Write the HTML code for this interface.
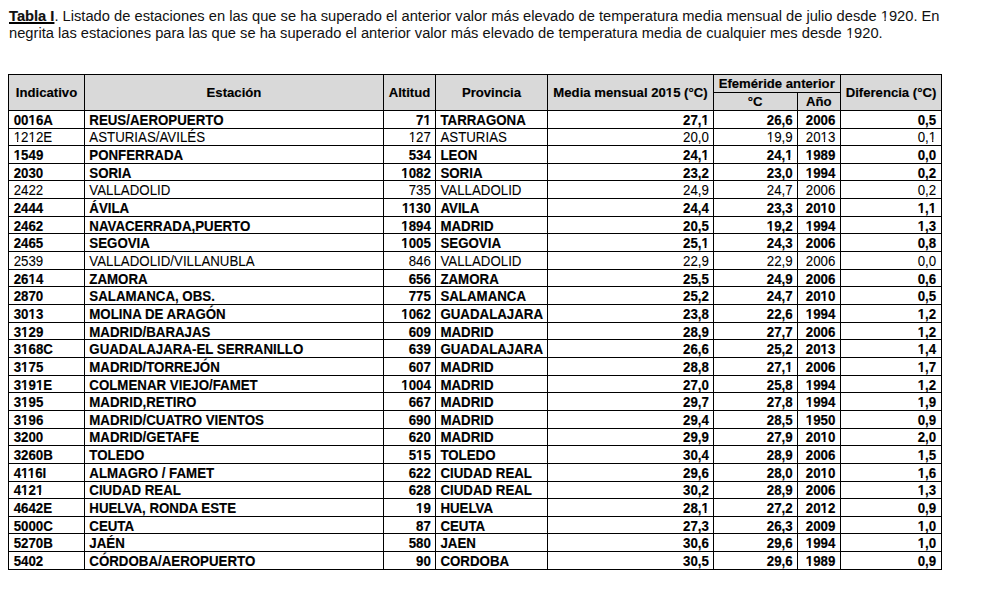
<!DOCTYPE html>
<html><head><meta charset="utf-8"><style>
html,body{margin:0;padding:0;background:#fff;}
body{width:994px;height:603px;position:relative;overflow:hidden;font-family:"Liberation Sans",sans-serif;color:#000;}
.title{position:absolute;left:9px;font-size:14.69px;line-height:17px;white-space:nowrap;color:#111;}
.tb{font-weight:bold;text-decoration:underline;text-decoration-thickness:2px;text-underline-offset:1px;-webkit-text-stroke:0.15px #000;}
.l{position:absolute;background:#000;}
.g{position:absolute;background:#d9d9d9;}
.t{position:absolute;font-size:13.3px;line-height:0;white-space:nowrap;transform:scaleY(1.1);transform-origin:0 0.01px;}
.b{-webkit-text-stroke:0.15px #000;}
.r{-webkit-text-stroke:0.08px #000;}
.b{font-weight:bold;}
.ra{text-align:right;}
.title .o{clip-path:polygon(0 0,100% 0,100% 0.66em,0.34em 0.66em,0.34em 100%,0.2515em 100%,0.2515em 0.66em,0 0.66em);}
.b .o{clip-path:polygon(0 0,100% 0,100% 0.72em,0.3706em 0.72em,0.3706em 100%,0.2334em 100%,0.2334em 0.72em,0 0.72em);}
.r .o{clip-path:polygon(0 0,100% 0,100% 0.70em,0.34em 0.70em,0.34em 100%,0.2515em 100%,0.2515em 0.70em,0 0.70em);}
.h{font-size:13.15px;transform:none;}
.ca{text-align:center;}
</style></head><body>
<div class="title" style="top:7.8px"><span class="tb">Tabla I</span>. Listado de estaciones en las que se ha superado el anterior valor más elevado de temperatura media mensual de julio desde <span class="o">1</span>920. En</div><div class="title" style="top:24.8px">negrita las estaciones para las que se ha superado el anterior valor más elevado de temperatura media de cualquier mes desde <span class="o">1</span>920.</div>
<div class="g" style="left:8px;top:74px;width:933px;height:36px"></div><div class="t b h ca" style="left:9px;width:75px;top:93.39px">Indicativo</div><div class="t b h ca" style="left:85px;width:298px;top:93.39px">Estación</div><div class="t b h ca" style="left:384px;width:51px;top:93.39px">Altitud</div><div class="t b h ca" style="left:436px;width:111px;top:93.39px">Provincia</div><div class="t b h ca" style="left:548px;width:165px;top:93.39px">Media mensual 20<span class="o">1</span>5 (°C)</div><div class="t b h ca" style="left:713.7px;width:126.0px;top:83.69px">Efeméride anterior</div><div class="t b h ca" style="left:713.5px;width:83.0px;top:102.29px">°C</div><div class="t b h ca" style="left:797.7px;width:42.0px;top:102.29px">Año</div><div class="t b h ca" style="left:841px;width:100px;top:93.39px">Diferencia (°C)</div><div class="t b" style="left:13.700000000000001px;top:120.69px">00<span class="o">1</span>6A</div><div class="t b" style="left:89.30000000000001px;top:120.69px">REUS/AEROPUERTO</div><div class="t b ra" style="right:563.10px;top:120.69px">7<span class="o">1</span></div><div class="t b" style="left:440.4px;top:120.69px">TARRAGONA</div><div class="t b ra" style="right:285.10px;top:120.69px">27,<span class="o">1</span></div><div class="t b ra" style="right:201.30px;top:120.69px">26,6</div><div class="t b ca" style="left:799.6px;width:42.0px;top:120.69px">2006</div><div class="t b ra" style="right:57.80px;top:120.69px">0,5</div><div class="t r" style="left:13.700000000000001px;top:138.35px"><span class="o">1</span>2<span class="o">1</span>2E</div><div class="t r" style="left:89.30000000000001px;top:138.35px">ASTURIAS/AVILÉS</div><div class="t r ra" style="right:563.10px;top:138.35px"><span class="o">1</span>27</div><div class="t r" style="left:440.4px;top:138.35px">ASTURIAS</div><div class="t r ra" style="right:285.10px;top:138.35px">20,0</div><div class="t r ra" style="right:201.30px;top:138.35px"><span class="o">1</span>9,9</div><div class="t r ca" style="left:799.6px;width:42.0px;top:138.35px">20<span class="o">1</span>3</div><div class="t r ra" style="right:57.80px;top:138.35px">0,<span class="o">1</span></div><div class="t b" style="left:13.700000000000001px;top:156.00px"><span class="o">1</span>549</div><div class="t b" style="left:89.30000000000001px;top:156.00px">PONFERRADA</div><div class="t b ra" style="right:563.10px;top:156.00px">534</div><div class="t b" style="left:440.4px;top:156.00px">LEON</div><div class="t b ra" style="right:285.10px;top:156.00px">24,<span class="o">1</span></div><div class="t b ra" style="right:201.30px;top:156.00px">24,<span class="o">1</span></div><div class="t b ca" style="left:799.6px;width:42.0px;top:156.00px"><span class="o">1</span>989</div><div class="t b ra" style="right:57.80px;top:156.00px">0,0</div><div class="t b" style="left:13.700000000000001px;top:173.65px">2030</div><div class="t b" style="left:89.30000000000001px;top:173.65px">SORIA</div><div class="t b ra" style="right:563.10px;top:173.65px"><span class="o">1</span>082</div><div class="t b" style="left:440.4px;top:173.65px">SORIA</div><div class="t b ra" style="right:285.10px;top:173.65px">23,2</div><div class="t b ra" style="right:201.30px;top:173.65px">23,0</div><div class="t b ca" style="left:799.6px;width:42.0px;top:173.65px"><span class="o">1</span>994</div><div class="t b ra" style="right:57.80px;top:173.65px">0,2</div><div class="t r" style="left:13.700000000000001px;top:191.31px">2422</div><div class="t r" style="left:89.30000000000001px;top:191.31px">VALLADOLID</div><div class="t r ra" style="right:563.10px;top:191.31px">735</div><div class="t r" style="left:440.4px;top:191.31px">VALLADOLID</div><div class="t r ra" style="right:285.10px;top:191.31px">24,9</div><div class="t r ra" style="right:201.30px;top:191.31px">24,7</div><div class="t r ca" style="left:799.6px;width:42.0px;top:191.31px">2006</div><div class="t r ra" style="right:57.80px;top:191.31px">0,2</div><div class="t b" style="left:13.700000000000001px;top:208.96px">2444</div><div class="t b" style="left:89.30000000000001px;top:208.96px">ÁVILA</div><div class="t b ra" style="right:563.10px;top:208.96px"><span class="o">1</span><span class="o">1</span>30</div><div class="t b" style="left:440.4px;top:208.96px">AVILA</div><div class="t b ra" style="right:285.10px;top:208.96px">24,4</div><div class="t b ra" style="right:201.30px;top:208.96px">23,3</div><div class="t b ca" style="left:799.6px;width:42.0px;top:208.96px">20<span class="o">1</span>0</div><div class="t b ra" style="right:57.80px;top:208.96px"><span class="o">1</span>,<span class="o">1</span></div><div class="t b" style="left:13.700000000000001px;top:226.61px">2462</div><div class="t b" style="left:89.30000000000001px;top:226.61px">NAVACERRADA,PUERTO</div><div class="t b ra" style="right:563.10px;top:226.61px"><span class="o">1</span>894</div><div class="t b" style="left:440.4px;top:226.61px">MADRID</div><div class="t b ra" style="right:285.10px;top:226.61px">20,5</div><div class="t b ra" style="right:201.30px;top:226.61px"><span class="o">1</span>9,2</div><div class="t b ca" style="left:799.6px;width:42.0px;top:226.61px"><span class="o">1</span>994</div><div class="t b ra" style="right:57.80px;top:226.61px"><span class="o">1</span>,3</div><div class="t b" style="left:13.700000000000001px;top:244.27px">2465</div><div class="t b" style="left:89.30000000000001px;top:244.27px">SEGOVIA</div><div class="t b ra" style="right:563.10px;top:244.27px"><span class="o">1</span>005</div><div class="t b" style="left:440.4px;top:244.27px">SEGOVIA</div><div class="t b ra" style="right:285.10px;top:244.27px">25,<span class="o">1</span></div><div class="t b ra" style="right:201.30px;top:244.27px">24,3</div><div class="t b ca" style="left:799.6px;width:42.0px;top:244.27px">2006</div><div class="t b ra" style="right:57.80px;top:244.27px">0,8</div><div class="t r" style="left:13.700000000000001px;top:261.92px">2539</div><div class="t r" style="left:89.30000000000001px;top:261.92px">VALLADOLID/VILLANUBLA</div><div class="t r ra" style="right:563.10px;top:261.92px">846</div><div class="t r" style="left:440.4px;top:261.92px">VALLADOLID</div><div class="t r ra" style="right:285.10px;top:261.92px">22,9</div><div class="t r ra" style="right:201.30px;top:261.92px">22,9</div><div class="t r ca" style="left:799.6px;width:42.0px;top:261.92px">2006</div><div class="t r ra" style="right:57.80px;top:261.92px">0,0</div><div class="t b" style="left:13.700000000000001px;top:279.58px">26<span class="o">1</span>4</div><div class="t b" style="left:89.30000000000001px;top:279.58px">ZAMORA</div><div class="t b ra" style="right:563.10px;top:279.58px">656</div><div class="t b" style="left:440.4px;top:279.58px">ZAMORA</div><div class="t b ra" style="right:285.10px;top:279.58px">25,5</div><div class="t b ra" style="right:201.30px;top:279.58px">24,9</div><div class="t b ca" style="left:799.6px;width:42.0px;top:279.58px">2006</div><div class="t b ra" style="right:57.80px;top:279.58px">0,6</div><div class="t b" style="left:13.700000000000001px;top:297.23px">2870</div><div class="t b" style="left:89.30000000000001px;top:297.23px">SALAMANCA, OBS.</div><div class="t b ra" style="right:563.10px;top:297.23px">775</div><div class="t b" style="left:440.4px;top:297.23px">SALAMANCA</div><div class="t b ra" style="right:285.10px;top:297.23px">25,2</div><div class="t b ra" style="right:201.30px;top:297.23px">24,7</div><div class="t b ca" style="left:799.6px;width:42.0px;top:297.23px">20<span class="o">1</span>0</div><div class="t b ra" style="right:57.80px;top:297.23px">0,5</div><div class="t b" style="left:13.700000000000001px;top:314.88px">30<span class="o">1</span>3</div><div class="t b" style="left:89.30000000000001px;top:314.88px">MOLINA DE ARAGÓN</div><div class="t b ra" style="right:563.10px;top:314.88px"><span class="o">1</span>062</div><div class="t b" style="left:440.4px;top:314.88px">GUADALAJARA</div><div class="t b ra" style="right:285.10px;top:314.88px">23,8</div><div class="t b ra" style="right:201.30px;top:314.88px">22,6</div><div class="t b ca" style="left:799.6px;width:42.0px;top:314.88px"><span class="o">1</span>994</div><div class="t b ra" style="right:57.80px;top:314.88px"><span class="o">1</span>,2</div><div class="t b" style="left:13.700000000000001px;top:332.54px">3<span class="o">1</span>29</div><div class="t b" style="left:89.30000000000001px;top:332.54px">MADRID/BARAJAS</div><div class="t b ra" style="right:563.10px;top:332.54px">609</div><div class="t b" style="left:440.4px;top:332.54px">MADRID</div><div class="t b ra" style="right:285.10px;top:332.54px">28,9</div><div class="t b ra" style="right:201.30px;top:332.54px">27,7</div><div class="t b ca" style="left:799.6px;width:42.0px;top:332.54px">2006</div><div class="t b ra" style="right:57.80px;top:332.54px"><span class="o">1</span>,2</div><div class="t b" style="left:13.700000000000001px;top:350.19px">3<span class="o">1</span>68C</div><div class="t b" style="left:89.30000000000001px;top:350.19px">GUADALAJARA-EL SERRANILLO</div><div class="t b ra" style="right:563.10px;top:350.19px">639</div><div class="t b" style="left:440.4px;top:350.19px">GUADALAJARA</div><div class="t b ra" style="right:285.10px;top:350.19px">26,6</div><div class="t b ra" style="right:201.30px;top:350.19px">25,2</div><div class="t b ca" style="left:799.6px;width:42.0px;top:350.19px">20<span class="o">1</span>3</div><div class="t b ra" style="right:57.80px;top:350.19px"><span class="o">1</span>,4</div><div class="t b" style="left:13.700000000000001px;top:367.85px">3<span class="o">1</span>75</div><div class="t b" style="left:89.30000000000001px;top:367.85px">MADRID/TORREJÓN</div><div class="t b ra" style="right:563.10px;top:367.85px">607</div><div class="t b" style="left:440.4px;top:367.85px">MADRID</div><div class="t b ra" style="right:285.10px;top:367.85px">28,8</div><div class="t b ra" style="right:201.30px;top:367.85px">27,<span class="o">1</span></div><div class="t b ca" style="left:799.6px;width:42.0px;top:367.85px">2006</div><div class="t b ra" style="right:57.80px;top:367.85px"><span class="o">1</span>,7</div><div class="t b" style="left:13.700000000000001px;top:385.50px">3<span class="o">1</span>9<span class="o">1</span>E</div><div class="t b" style="left:89.30000000000001px;top:385.50px">COLMENAR VIEJO/FAMET</div><div class="t b ra" style="right:563.10px;top:385.50px"><span class="o">1</span>004</div><div class="t b" style="left:440.4px;top:385.50px">MADRID</div><div class="t b ra" style="right:285.10px;top:385.50px">27,0</div><div class="t b ra" style="right:201.30px;top:385.50px">25,8</div><div class="t b ca" style="left:799.6px;width:42.0px;top:385.50px"><span class="o">1</span>994</div><div class="t b ra" style="right:57.80px;top:385.50px"><span class="o">1</span>,2</div><div class="t b" style="left:13.700000000000001px;top:403.15px">3<span class="o">1</span>95</div><div class="t b" style="left:89.30000000000001px;top:403.15px">MADRID,RETIRO</div><div class="t b ra" style="right:563.10px;top:403.15px">667</div><div class="t b" style="left:440.4px;top:403.15px">MADRID</div><div class="t b ra" style="right:285.10px;top:403.15px">29,7</div><div class="t b ra" style="right:201.30px;top:403.15px">27,8</div><div class="t b ca" style="left:799.6px;width:42.0px;top:403.15px"><span class="o">1</span>994</div><div class="t b ra" style="right:57.80px;top:403.15px"><span class="o">1</span>,9</div><div class="t b" style="left:13.700000000000001px;top:420.81px">3<span class="o">1</span>96</div><div class="t b" style="left:89.30000000000001px;top:420.81px">MADRID/CUATRO VIENTOS</div><div class="t b ra" style="right:563.10px;top:420.81px">690</div><div class="t b" style="left:440.4px;top:420.81px">MADRID</div><div class="t b ra" style="right:285.10px;top:420.81px">29,4</div><div class="t b ra" style="right:201.30px;top:420.81px">28,5</div><div class="t b ca" style="left:799.6px;width:42.0px;top:420.81px"><span class="o">1</span>950</div><div class="t b ra" style="right:57.80px;top:420.81px">0,9</div><div class="t b" style="left:13.700000000000001px;top:438.46px">3200</div><div class="t b" style="left:89.30000000000001px;top:438.46px">MADRID/GETAFE</div><div class="t b ra" style="right:563.10px;top:438.46px">620</div><div class="t b" style="left:440.4px;top:438.46px">MADRID</div><div class="t b ra" style="right:285.10px;top:438.46px">29,9</div><div class="t b ra" style="right:201.30px;top:438.46px">27,9</div><div class="t b ca" style="left:799.6px;width:42.0px;top:438.46px">20<span class="o">1</span>0</div><div class="t b ra" style="right:57.80px;top:438.46px">2,0</div><div class="t b" style="left:13.700000000000001px;top:456.11px">3260B</div><div class="t b" style="left:89.30000000000001px;top:456.11px">TOLEDO</div><div class="t b ra" style="right:563.10px;top:456.11px">5<span class="o">1</span>5</div><div class="t b" style="left:440.4px;top:456.11px">TOLEDO</div><div class="t b ra" style="right:285.10px;top:456.11px">30,4</div><div class="t b ra" style="right:201.30px;top:456.11px">28,9</div><div class="t b ca" style="left:799.6px;width:42.0px;top:456.11px">2006</div><div class="t b ra" style="right:57.80px;top:456.11px"><span class="o">1</span>,5</div><div class="t b" style="left:13.700000000000001px;top:473.77px">4<span class="o">1</span><span class="o">1</span>6I</div><div class="t b" style="left:89.30000000000001px;top:473.77px">ALMAGRO / FAMET</div><div class="t b ra" style="right:563.10px;top:473.77px">622</div><div class="t b" style="left:440.4px;top:473.77px">CIUDAD REAL</div><div class="t b ra" style="right:285.10px;top:473.77px">29,6</div><div class="t b ra" style="right:201.30px;top:473.77px">28,0</div><div class="t b ca" style="left:799.6px;width:42.0px;top:473.77px">20<span class="o">1</span>0</div><div class="t b ra" style="right:57.80px;top:473.77px"><span class="o">1</span>,6</div><div class="t b" style="left:13.700000000000001px;top:491.42px">4<span class="o">1</span>2<span class="o">1</span></div><div class="t b" style="left:89.30000000000001px;top:491.42px">CIUDAD REAL</div><div class="t b ra" style="right:563.10px;top:491.42px">628</div><div class="t b" style="left:440.4px;top:491.42px">CIUDAD REAL</div><div class="t b ra" style="right:285.10px;top:491.42px">30,2</div><div class="t b ra" style="right:201.30px;top:491.42px">28,9</div><div class="t b ca" style="left:799.6px;width:42.0px;top:491.42px">2006</div><div class="t b ra" style="right:57.80px;top:491.42px"><span class="o">1</span>,3</div><div class="t b" style="left:13.700000000000001px;top:509.08px">4642E</div><div class="t b" style="left:89.30000000000001px;top:509.08px">HUELVA, RONDA ESTE</div><div class="t b ra" style="right:563.10px;top:509.08px"><span class="o">1</span>9</div><div class="t b" style="left:440.4px;top:509.08px">HUELVA</div><div class="t b ra" style="right:285.10px;top:509.08px">28,<span class="o">1</span></div><div class="t b ra" style="right:201.30px;top:509.08px">27,2</div><div class="t b ca" style="left:799.6px;width:42.0px;top:509.08px">20<span class="o">1</span>2</div><div class="t b ra" style="right:57.80px;top:509.08px">0,9</div><div class="t b" style="left:13.700000000000001px;top:526.73px">5000C</div><div class="t b" style="left:89.30000000000001px;top:526.73px">CEUTA</div><div class="t b ra" style="right:563.10px;top:526.73px">87</div><div class="t b" style="left:440.4px;top:526.73px">CEUTA</div><div class="t b ra" style="right:285.10px;top:526.73px">27,3</div><div class="t b ra" style="right:201.30px;top:526.73px">26,3</div><div class="t b ca" style="left:799.6px;width:42.0px;top:526.73px">2009</div><div class="t b ra" style="right:57.80px;top:526.73px"><span class="o">1</span>,0</div><div class="t b" style="left:13.700000000000001px;top:544.38px">5270B</div><div class="t b" style="left:89.30000000000001px;top:544.38px">JAÉN</div><div class="t b ra" style="right:563.10px;top:544.38px">580</div><div class="t b" style="left:440.4px;top:544.38px">JAEN</div><div class="t b ra" style="right:285.10px;top:544.38px">30,6</div><div class="t b ra" style="right:201.30px;top:544.38px">29,6</div><div class="t b ca" style="left:799.6px;width:42.0px;top:544.38px"><span class="o">1</span>994</div><div class="t b ra" style="right:57.80px;top:544.38px"><span class="o">1</span>,0</div><div class="t b" style="left:13.700000000000001px;top:562.04px">5402</div><div class="t b" style="left:89.30000000000001px;top:562.04px">CÓRDOBA/AEROPUERTO</div><div class="t b ra" style="right:563.10px;top:562.04px">90</div><div class="t b" style="left:440.4px;top:562.04px">CORDOBA</div><div class="t b ra" style="right:285.10px;top:562.04px">30,5</div><div class="t b ra" style="right:201.30px;top:562.04px">29,6</div><div class="t b ca" style="left:799.6px;width:42.0px;top:562.04px"><span class="o">1</span>989</div><div class="t b ra" style="right:57.80px;top:562.04px">0,9</div><div class="l" style="left:8px;top:74px;width:934px;height:1px"></div><div class="l" style="left:713px;top:92px;width:128px;height:1px"></div><div class="l" style="left:8px;top:110px;width:934px;height:1px"></div><div class="l" style="left:8px;top:128px;width:934px;height:1px"></div><div class="l" style="left:8px;top:145px;width:934px;height:1px"></div><div class="l" style="left:8px;top:163px;width:934px;height:1px"></div><div class="l" style="left:8px;top:180px;width:934px;height:1px"></div><div class="l" style="left:8px;top:198px;width:934px;height:1px"></div><div class="l" style="left:8px;top:216px;width:934px;height:1px"></div><div class="l" style="left:8px;top:233px;width:934px;height:1px"></div><div class="l" style="left:8px;top:251px;width:934px;height:1px"></div><div class="l" style="left:8px;top:269px;width:934px;height:1px"></div><div class="l" style="left:8px;top:286px;width:934px;height:1px"></div><div class="l" style="left:8px;top:304px;width:934px;height:1px"></div><div class="l" style="left:8px;top:322px;width:934px;height:1px"></div><div class="l" style="left:8px;top:339px;width:934px;height:1px"></div><div class="l" style="left:8px;top:357px;width:934px;height:1px"></div><div class="l" style="left:8px;top:375px;width:934px;height:1px"></div><div class="l" style="left:8px;top:392px;width:934px;height:1px"></div><div class="l" style="left:8px;top:410px;width:934px;height:1px"></div><div class="l" style="left:8px;top:428px;width:934px;height:1px"></div><div class="l" style="left:8px;top:445px;width:934px;height:1px"></div><div class="l" style="left:8px;top:463px;width:934px;height:1px"></div><div class="l" style="left:8px;top:481px;width:934px;height:1px"></div><div class="l" style="left:8px;top:498px;width:934px;height:1px"></div><div class="l" style="left:8px;top:516px;width:934px;height:1px"></div><div class="l" style="left:8px;top:533px;width:934px;height:1px"></div><div class="l" style="left:8px;top:551px;width:934px;height:1px"></div><div class="l" style="left:8px;top:569px;width:934px;height:1px"></div><div class="l" style="left:8px;top:74px;width:1px;height:496px"></div><div class="l" style="left:84px;top:74px;width:1px;height:496px"></div><div class="l" style="left:383px;top:74px;width:1px;height:496px"></div><div class="l" style="left:435px;top:74px;width:1px;height:496px"></div><div class="l" style="left:547px;top:74px;width:1px;height:496px"></div><div class="l" style="left:713px;top:74px;width:1px;height:496px"></div><div class="l" style="left:797px;top:92px;width:1px;height:478px"></div><div class="l" style="left:840px;top:74px;width:1px;height:496px"></div><div class="l" style="left:941px;top:74px;width:1px;height:496px"></div>
</body></html>
